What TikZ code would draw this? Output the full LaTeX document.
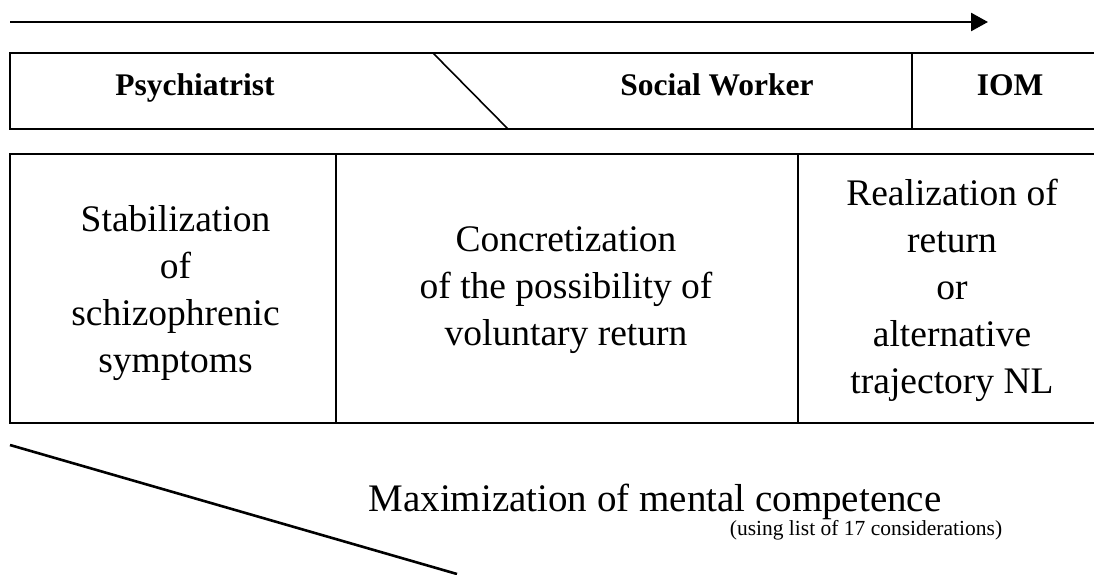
\documentclass[tikz,border=0pt]{standalone}
\usepackage{fontspec}
\setmainfont{Liberation Serif}
\usetikzlibrary{arrows.meta}
\begin{document}
\begin{tikzpicture}[x=1pt,y=-1pt,
  heavy/.style={line width=2.6pt},
  frame/.style={line width=2.2pt},
  light/.style={line width=1.6pt},
  role/.style={font=\fontsize{31.5}{38}\selectfont\bfseries, inner sep=0pt, anchor=base},
  cell/.style={font=\fontsize{37.5}{47}\selectfont, align=center, inner sep=0pt, anchor=base},
  big/.style={font=\fontsize{39}{46}\selectfont, inner sep=0pt, anchor=base},
  small/.style={font=\fontsize{21.5}{26}\selectfont, inner sep=0pt, anchor=base},
]
\useasboundingbox (0,0) rectangle (1094,574);
% time arrow
\coordinate (a0) at (10,22);
\coordinate (a1) at (988,22);
\draw[heavy, -{Triangle[length=17pt,width=18pt]}] (a0) -- (a1);
% role bar
\coordinate (btl) at (10,53);
\coordinate (bbl) at (10,129);
\coordinate (btr) at (1094,53);
\coordinate (bbr) at (1094,129);
\coordinate (s0) at (433,53);
\coordinate (s1) at (508,129);
\coordinate (d0) at (912,53);
\coordinate (d1) at (912,129);
\draw[frame] (btr) -- (btl) -- (bbl) -- (bbr);
\draw[light] (s0) -- (s1);
\draw[light] (d0) -- (d1);
\node[role] (psy) at (195,95) {Psychiatrist};
\node[role] (sw) at (717,95) {Social Worker};
\node[role] (iom) at (1010,95) {IOM};
% phase table
\coordinate (ttl) at (10,154);
\coordinate (tbl) at (10,423);
\coordinate (ttr) at (1094,154);
\coordinate (tbr) at (1094,423);
\coordinate (c1t) at (336,154);
\coordinate (c1b) at (336,423);
\coordinate (c2t) at (798,154);
\coordinate (c2b) at (798,423);
\draw[frame] (ttr) -- (ttl) -- (tbl) -- (tbr);
\draw[light] (c1t) -- (c1b);
\draw[light] (c2t) -- (c2b);
\node[cell] (p1) at (175.5,372) {Stabilization\\of\\schizophrenic\\symptoms};
\node[cell] (p2) at (566,345) {Concretization\\of the possibility of\\voluntary return};
\node[cell] (p3) at (952,393) {Realization of\\return\\or\\alternative\\trajectory NL};
% competence wedge
\coordinate (w0) at (10,445);
\coordinate (w1) at (457,574);
\draw[heavy] (w0) -- (w1);
\node[big] (max) at (655,511) {Maximization of mental competence};
\node[small] (list) at (866,535) {(using list of 17 considerations)};
\end{tikzpicture}
\end{document}
